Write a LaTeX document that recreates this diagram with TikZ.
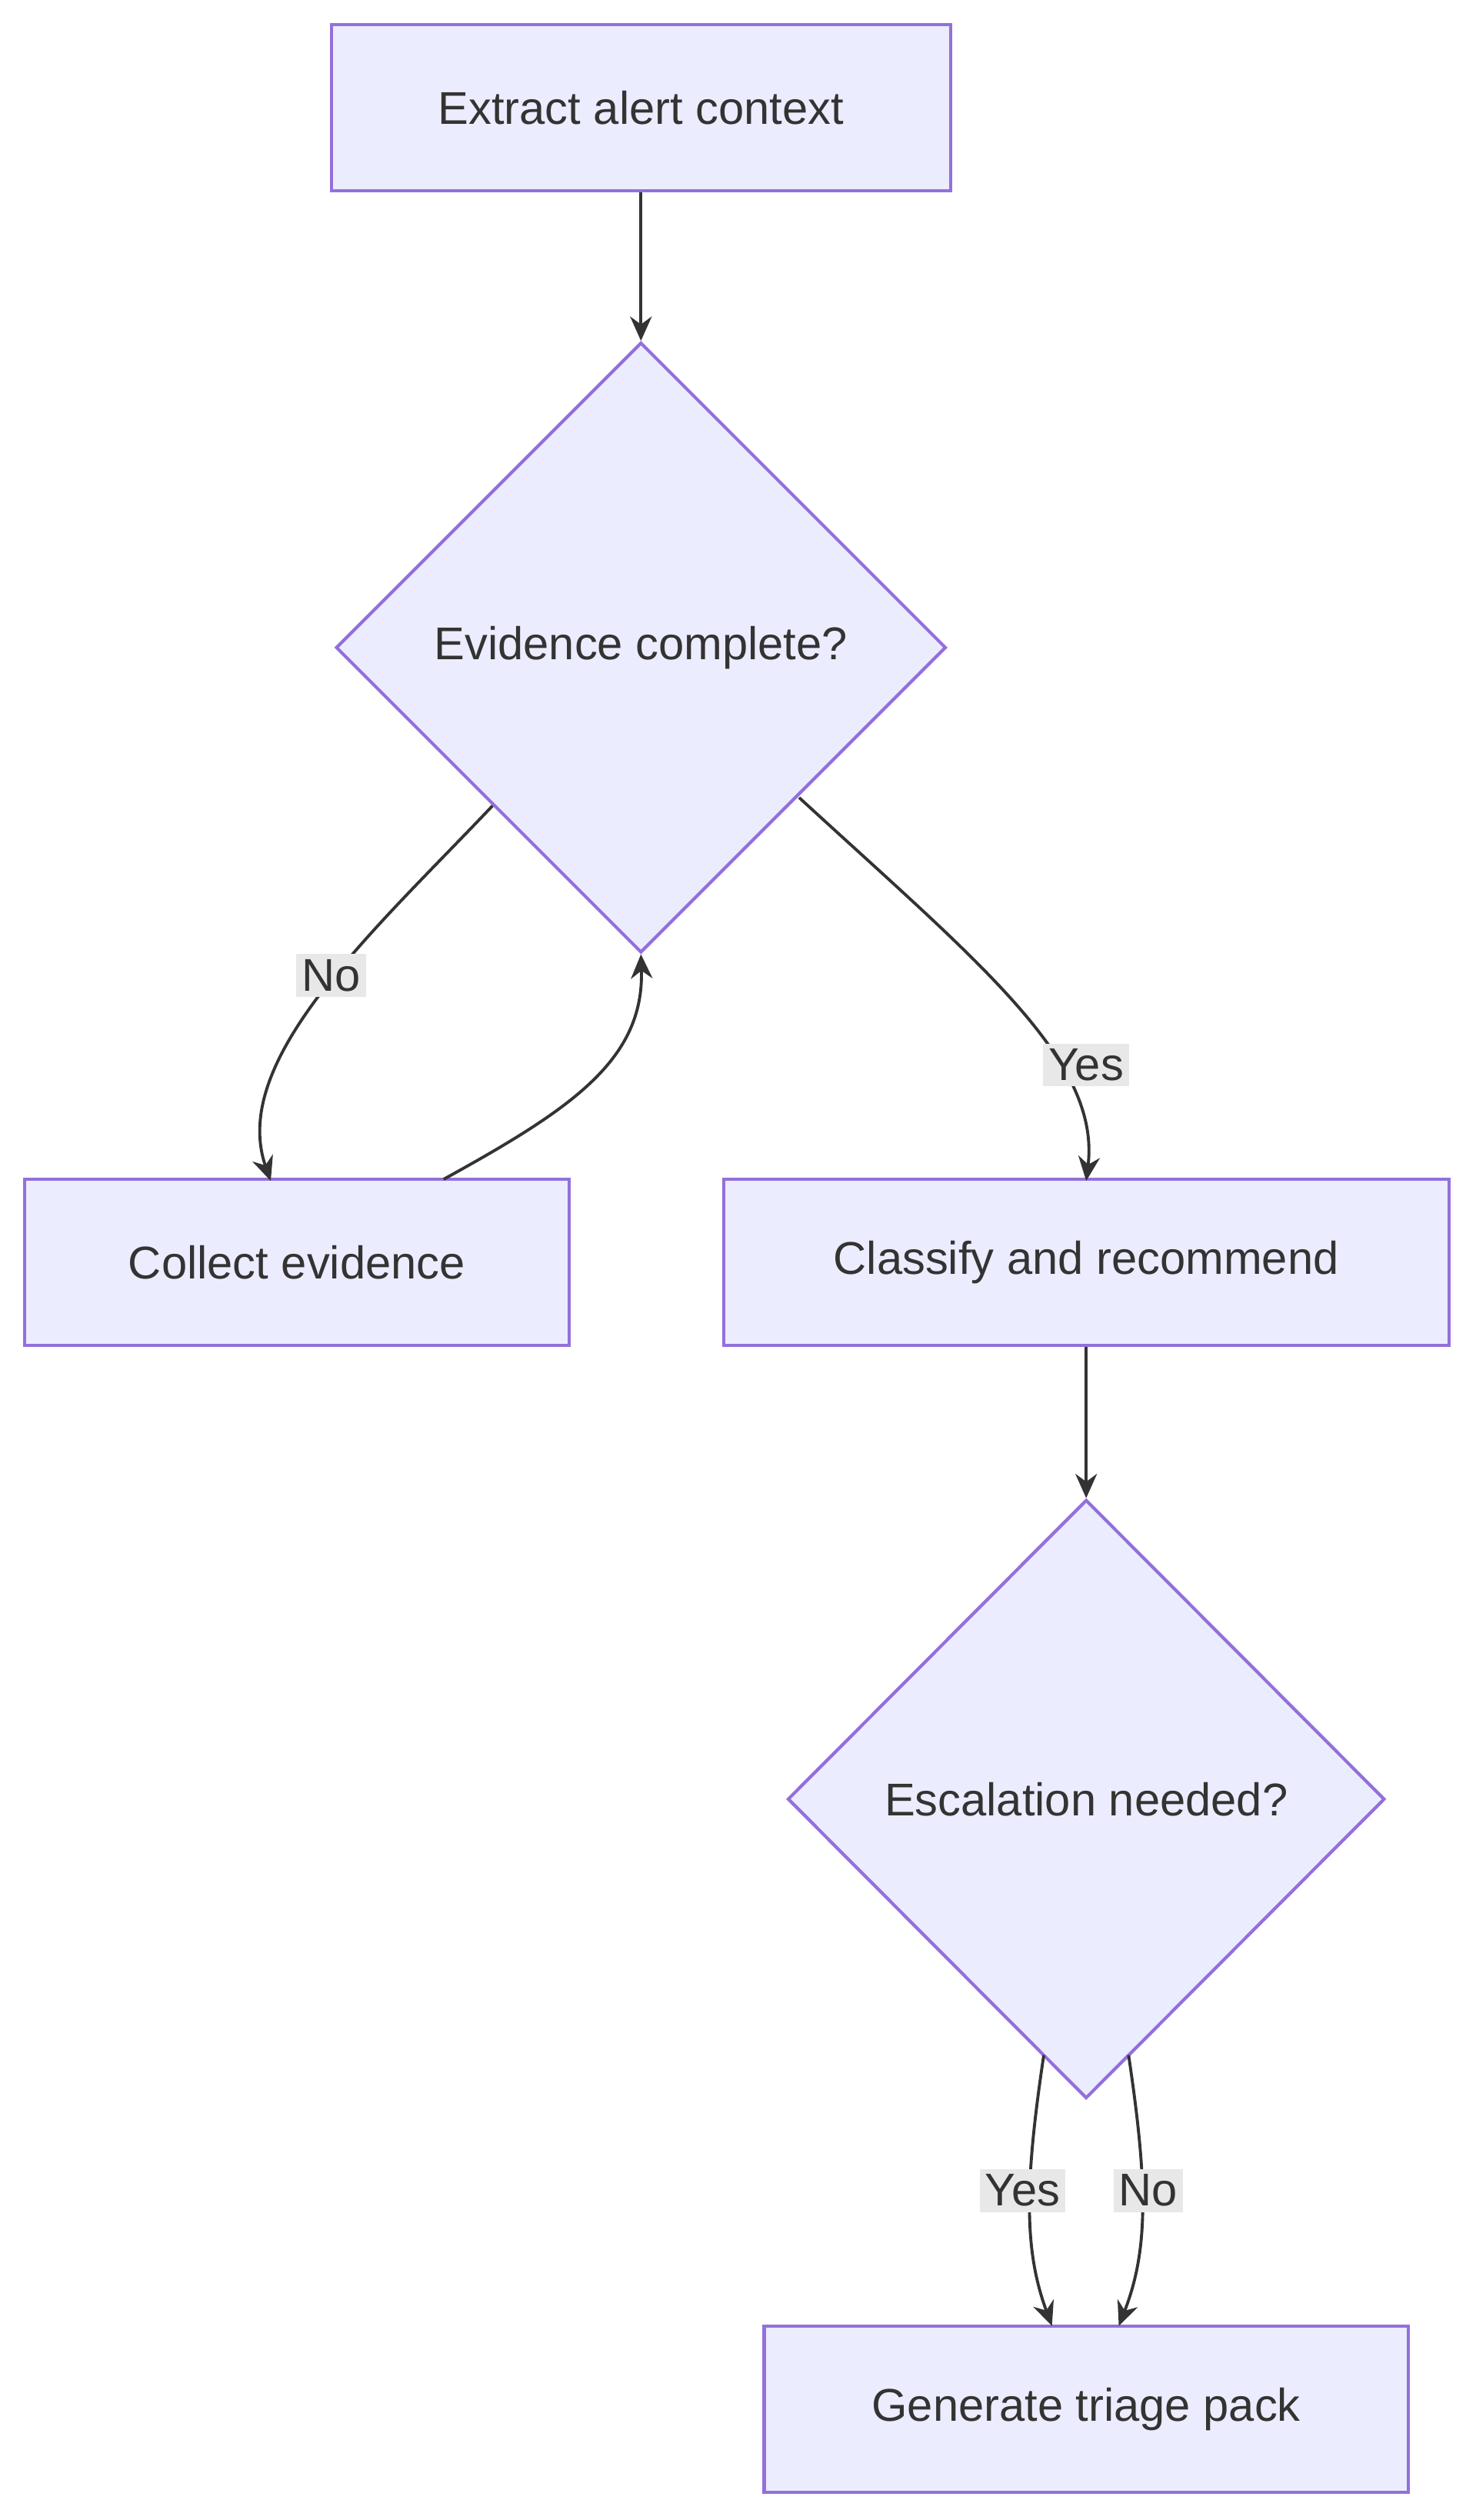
\documentclass[tikz,border=0pt]{standalone}
\usepackage{fontspec}
\setmainfont{Liberation Sans}
\usetikzlibrary{shapes.geometric,arrows.meta}
\definecolor{boxfill}{HTML}{ECECFF}
\definecolor{boxline}{HTML}{9370DB}
\definecolor{edgeline}{HTML}{333333}
\definecolor{lblfill}{HTML}{E8E8E8}
\tikzset{
  stepbox/.style={draw=boxline,fill=boxfill,line width=1.2pt,minimum height=2.16cm,inner sep=0pt,font=\fontsize{17}{20}\selectfont,text=edgeline},
  choice/.style={diamond,draw=boxline,fill=boxfill,line width=1.2pt,inner sep=0pt,minimum width=7.94cm,minimum height=7.94cm,font=\fontsize{17}{20}\selectfont,text=edgeline},
  lbl/.style={fill=lblfill,inner sep=2pt,font=\fontsize{17}{20}\selectfont,text=edgeline},
  flow/.style={draw=edgeline,line width=1.1pt,-{Stealth[length=9pt,width=8pt]}}
}
\begin{document}
\begin{tikzpicture}[x=0.02122cm,y=-0.02122cm]
\useasboundingbox (0,0) rectangle (905,1545);
\node (extract) at (393,66) [stepbox,minimum width=8.06cm] {Extract alert context};
\node (evid) at (393,397) [choice] {Evidence complete?};
\node (collect) at (182,774) [stepbox,minimum width=7.09cm] {Collect evidence};
\node (classify) at (666,774) [stepbox,minimum width=9.44cm] {Classify and recommend};
\node (escal) at (666,1103) [choice,minimum width=7.77cm,minimum height=7.79cm] {Escalation needed?};
\node (triage) at (666,1477) [stepbox,minimum width=8.38cm] {Generate triage pack};
% curve ends
\coordinate (noA) at (302,494);
\coordinate (noB) at (166,724);
\coordinate (backA) at (272,723);
\coordinate (yesA) at (490,489);
\coordinate (yesB) at (666,724);
\coordinate (y2A) at (640,1260);
\coordinate (y2B) at (645,1426);
\coordinate (n2A) at (692,1260);
\coordinate (n2B) at (686,1426);
\draw [flow] (extract) -- (evid.north);
\draw [flow] (noA) .. controls (230,570) and (140,650) .. (noB);
\node (lno) at (203,598) [lbl] {No};
\draw [flow] (backA) .. controls (350,680) and (395,650) .. (evid.south);
\draw [flow] (yesA) .. controls (600,590) and (675,650) .. (yesB);
\node (lyes) at (666,653) [lbl] {Yes};
\draw [flow] (classify) -- (escal.north);
\draw [flow] (y2A) .. controls (628,1340) and (628,1380) .. (y2B);
\node (lyes2) at (627,1343) [lbl] {Yes};
\draw [flow] (n2A) .. controls (704,1340) and (704,1380) .. (n2B);
\node (lno2) at (704,1343) [lbl] {No};
\end{tikzpicture}
\end{document}
